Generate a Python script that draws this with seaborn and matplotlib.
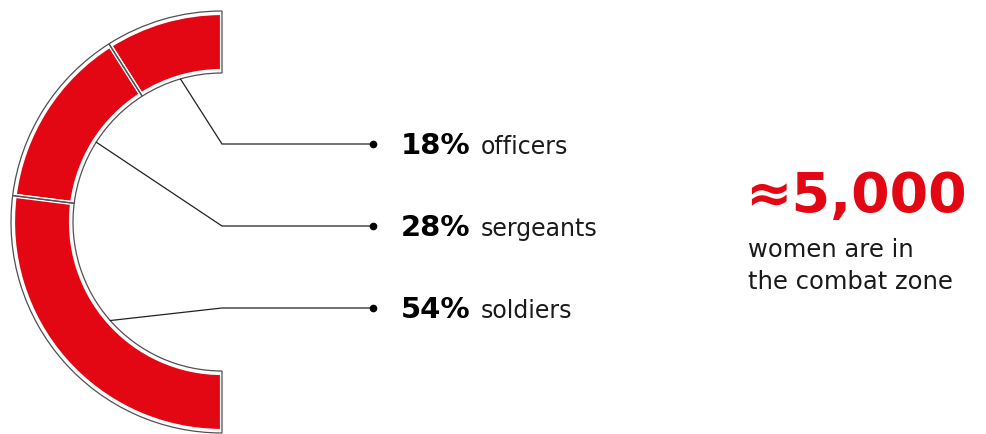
import matplotlib
matplotlib.use("Agg")
import matplotlib.pyplot as plt
import seaborn as sns
import numpy as np

sns.set_theme(style="white")
plt.rcParams["font.family"] = ["DejaVu Sans"]

# data
categories = ["officers", "sergeants", "soldiers"]
shares = [18, 28, 54]
share_labels = ["18%", "28%", "54%"]
headline = "\u22485,000"
headline_note = ["women are in", "the combat zone"]

RED = "#e30613"
DARK = "#222222"

fig = plt.figure(figsize=(9.86, 4.34), dpi=100)
ax = fig.add_axes([0, 0, 1, 1])

# ring geometry in pixels (y measured from the bottom)
cx, cy = 222, 212
r_out, ring = 209, 58

# the three shares fill the left half; a dummy share fills the hidden right half
vals = shares + [sum(shares)]
fill, _ = ax.pie(vals, center=(cx, cy), radius=r_out, startangle=90,
                 counterclock=True, colors=[RED] * 4,
                 wedgeprops=dict(width=ring, edgecolor="white", linewidth=3))
frame, _ = ax.pie(vals, center=(cx, cy), radius=r_out + 2, startangle=90,
                  counterclock=True,
                  wedgeprops=dict(width=ring + 4, facecolor="none",
                                  edgecolor="#505050", linewidth=0.9))
fill[-1].set_visible(False)
frame[-1].set_visible(False)

# leader lines from the middle of each segment to its label
label_y = [290, 208, 126]
r_in = r_out - ring - 2
cum = np.cumsum(shares)
dot_x = 373
for s, c, y in zip(shares, cum, label_y):
    ang = np.deg2rad(90 + 180 * (c - s / 2) / sum(shares))
    x0, y0 = cx + r_in * np.cos(ang), cy + r_in * np.sin(ang)
    ax.plot([x0, cx, dot_x], [y0, y, y], color=DARK, lw=0.9,
            solid_joinstyle="miter")
    ax.plot(dot_x, y, "o", ms=4.5, color="black")

ax.set_xlim(0, 986)
ax.set_ylim(0, 434)
ax.set_aspect("auto")
ax.axis("off")

pct_texts = []
for lab, y in zip(share_labels, label_y):
    t = ax.text(401, y - 10, lab, fontsize=21, fontweight="bold",
                color="black", va="baseline", ha="left")
    pct_texts.append(t)

fig.canvas.draw()
renderer = fig.canvas.get_renderer()
for t, cat, y in zip(pct_texts, categories, label_y):
    bb = t.get_window_extent(renderer)
    ax.text(bb.x1 + 10, y - 10, cat, fontsize=17, color="#1a1a1a",
            va="baseline", ha="left")

ax.text(745, 222, headline, fontsize=40, fontweight="bold", color=RED,
        va="baseline", ha="left")
ax.text(748, 177, headline_note[0], fontsize=17.5, color="#1a1a1a",
        va="baseline", ha="left")
ax.text(748, 145, headline_note[1], fontsize=17.5, color="#1a1a1a",
        va="baseline", ha="left")

fig.savefig("out.png", dpi=100, facecolor="white")
